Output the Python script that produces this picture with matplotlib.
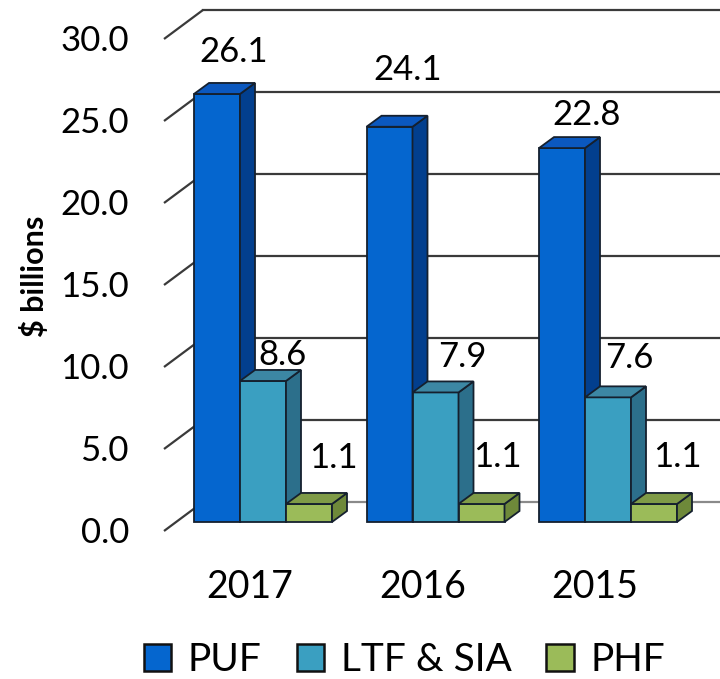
import matplotlib.pyplot as plt
from matplotlib.patches import Polygon, Patch

plt.rcParams['font.family'] = ['Lato', 'DejaVu Sans']

years = ['2017', '2016', '2015']
series = ['PUF', 'LTF & SIA', 'PHF']
puf = [26.1, 24.1, 22.8]
ltf_sia = [8.6, 7.9, 7.6]
phf = [1.1, 1.1, 1.1]
y_ticks = [0, 5, 10, 15, 20, 25, 30]

values = [puf, ltf_sia, phf]
front_col = ['#0566CF', '#3A9FC1', '#9BBB59']
side_col = ['#023F8E', '#2C6F8B', '#6E893A']
top_col = ['#0B58BF', '#3C87A4', '#7F9B47']
edge = '#15202e'

# pixel scale of the fake 3d view
KX = 172.5   # px per category
KV = 16.4    # px per value unit
W = 46 / KX  # bar width
DX, DY = 15 / KX, 11 / KV          # bar depth
BACK_DY = 20 / KV                  # back wall offset
WALL_X0, WALL_X1 = -99 / KX, -60 / KX
WALL_FRONT_DY = -9 / KV

# data-label nudges (px): shift right, lift above front top
shift_px = [[17, 18, 25], [19, 27, 21], [24, 16, 23]]
lift_px = [[42, 57, 33], [26, 35, 39], [46, 47, 47]]

fig = plt.figure(figsize=(7.2, 6.79), dpi=100)
ax = fig.add_axes([0, 0, 1, 1])
ax.set_xlim(-263 / KX, (720 - 263) / KX)
ax.set_ylim(-(679 - 522) / KV, 522 / KV)
ax.axis('off')

# back wall gridlines + left wall edges
for t in y_ticks:
    c = '#8a8a8a' if t == 0 else '#3a3a3a'
    ax.plot([WALL_X1, 3.0], [t + BACK_DY, t + BACK_DY], color=c, lw=1.6, zorder=1)
    ax.plot([WALL_X0, WALL_X1], [t + WALL_FRONT_DY, t + BACK_DY], color='#3a3a3a',
            lw=1.6, zorder=1, solid_capstyle='butt')
    ax.text(-134 / KX, t - 0.67, f'{t:.1f}', ha='right', va='center', fontsize=25)

for i in range(len(years)):
    for j in range(len(series)):
        v = values[j][i]
        x0 = i + (j - 1.5) * W
        x1 = x0 + W
        z = 3 + 0.01 * (i * 3 + j)
        ax.bar(x0, v, width=W, align='edge', color=front_col[j], edgecolor=edge,
               lw=1.3, zorder=z)
        ax.add_patch(Polygon([(x1, 0), (x1 + DX, DY), (x1 + DX, v + DY), (x1, v)],
                             closed=True, fc=side_col[j], ec=edge, lw=1.3, zorder=z))
        ax.add_patch(Polygon([(x0, v), (x1, v), (x1 + DX, v + DY), (x0 + DX, v + DY)],
                             closed=True, fc=top_col[j], ec=edge, lw=1.3, zorder=z))
        ax.text(x0 + W / 2 + shift_px[j][i] / KX, v + lift_px[j][i] / KV, f'{v:.1f}',
                ha='center', va='center', fontsize=25, zorder=10)
    ax.text(i - 13 / KX, -3.96, years[i], ha='center', va='center', fontsize=27)

fig.text(34 / 720, 1 - 276 / 679, '$ billions', rotation=90, fontweight='bold',
         fontsize=22, ha='center', va='center')

handles = [Patch(facecolor=front_col[j], edgecolor='#111111', lw=1.8) for j in range(3)]
fig.legend(handles, series, loc='center', bbox_to_anchor=(404.5 / 720, 1 - 660 / 679),
           ncol=3, frameon=False, fontsize=28, handlelength=0.7, handleheight=0.7,
           handletextpad=0.43, columnspacing=0.9, borderpad=0, borderaxespad=0)

fig.savefig('out.png', dpi=100)
